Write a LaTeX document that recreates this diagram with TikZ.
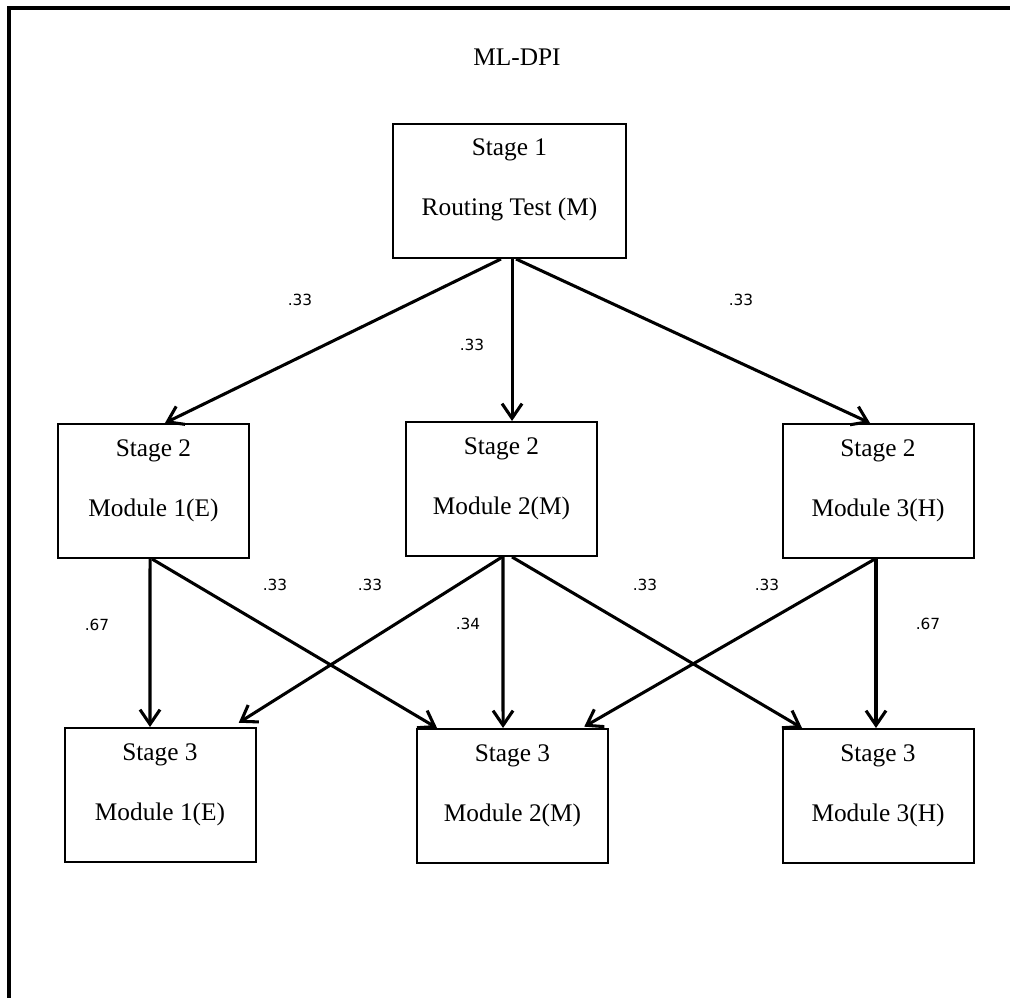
\documentclass[tikz,border=0pt]{standalone}
\usepackage{fontspec}
\setmainfont{Liberation Serif}
\newfontfamily\probfont{DejaVu Sans}
\usetikzlibrary{positioning,arrows.meta}

\begin{document}
\begin{tikzpicture}[
      x=0.75pt, y=-0.75pt, % <-- ONE UNIT = ONE PIXEL OF THE FIGURE
      stagebox/.style={draw, line width=1.5pt, anchor=north, align=center, inner sep=0pt,
        minimum width=143.25pt, text height=69pt, text depth=31.5pt,
        font=\fontsize{19pt}{45pt}\selectfont},
      prob/.style={font=\probfont\fontsize{11.5pt}{13pt}\selectfont, inner sep=1pt},
      flow/.style={->, line width=2.3pt},
      >={Straight Barb[length=11pt,width=15pt]}
    ]
    \useasboundingbox (0,0) rectangle (1010,998);

    % Frame and title
    \draw[line width=2.3pt] (9,1010) -- (9,8) -- (1020,8);
    \node[font=\fontsize{19pt}{23pt}\selectfont] (title) at (517,57) {ML-DPI};

    % Stages, one row each
    \node[stagebox, minimum width=174.75pt] (s1) at (509.5,123) {Stage 1\\Routing Test (M)};

    \node[stagebox] (s2e) at (153.5,423) {Stage 2\\Module 1(E)};
    \node[stagebox] (s2m) at (501.5,421) {Stage 2\\Module 2(M)};
    \node[stagebox] (s2h) at (878,423) {Stage 2\\Module 3(H)};

    \node[stagebox] (s3e) at (160,727) {Stage 3\\Module 1(E)};
    \node[stagebox] (s3m) at (512.5,728) {Stage 3\\Module 2(M)};
    \node[stagebox] (s3h) at (878,728) {Stage 3\\Module 3(H)};

    % Arrows from the routing test
    \draw[flow] ([xshift=-6.4pt]s1.south) -- ([xshift=8.6pt]s2e.north);
    \draw[flow] ([xshift=1.9pt]s1.south) -- ([xshift=7.9pt]s2m.north);
    \draw[flow] ([xshift=4.9pt]s1.south) -- ([xshift=-6pt]s2h.north);

    % Arrows from stage 2
    \draw[flow] ([xshift=-2.6pt]s2e.south) -- ([xshift=-7.5pt]s3e.north);
    \draw[flow] ([xshift=-1.1pt]s2e.south) -- ([xshift=-56.6pt]s3m.north);
    \draw[flow, shorten >=6pt] ([xshift=0.4pt]s2m.south) -- ([xshift=54pt]s3e.north);
    \draw[flow] ([xshift=1.1pt]s2m.south) -- ([xshift=-7.1pt]s3m.north);
    \draw[flow] ([xshift=7.9pt]s2m.south) -- ([xshift=-57pt]s3h.north);
    \draw[flow, shorten >=2pt] ([xshift=-2.3pt]s2h.south) -- ([xshift=52.1pt]s3m.north);
    \draw[flow] ([xshift=-1.5pt]s2h.south) -- ([xshift=-1.5pt]s3h.north);

    % Probabilities
    \node[prob] (p1e) at (300,300) {.33};
    \node[prob] (p1m) at (472,345) {.33};
    \node[prob] (p1h) at (741,300) {.33};
    \node[prob] (pee) at (97,625) {.67};
    \node[prob] (pem) at (275,585) {.33};
    \node[prob] (pme) at (370,585) {.33};
    \node[prob] (pmm) at (468,624) {.34};
    \node[prob] (pmh) at (645,585) {.33};
    \node[prob] (phm) at (767,585) {.33};
    \node[prob] (phh) at (928,624) {.67};

  \end{tikzpicture}
\end{document}
